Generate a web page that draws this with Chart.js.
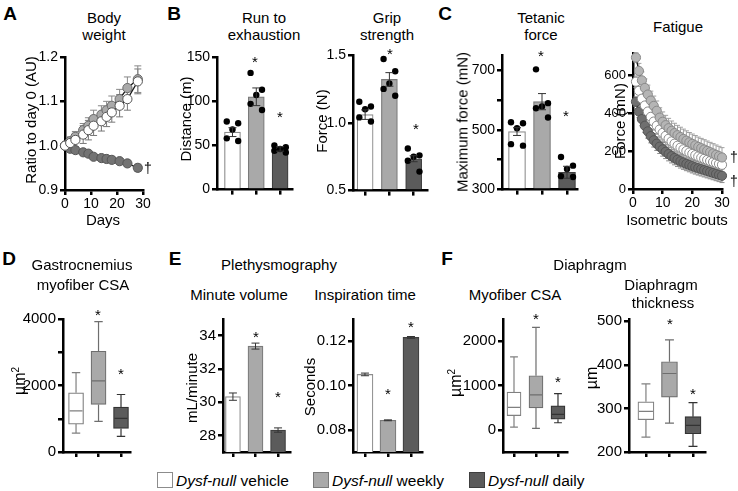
<!DOCTYPE html>
<html>
<head>
<meta charset="utf-8">
<script src="https://cdn.jsdelivr.net/npm/chart.js@4.4.1/dist/chart.umd.min.js"></script>
<style>
  body { margin: 0; background: #fff; }
  #fig { position: relative; width: 738px; height: 491px; overflow: hidden;
         font-family: "Liberation Sans", Arial, sans-serif; color: #000; }
  #fig canvas { position: absolute; }
  .lbl { position: absolute; white-space: nowrap; line-height: 1; font-size: 15px; }
  .sw { position: absolute; width: 16px; height: 16px; box-sizing: border-box; border: 1px solid #777; }
</style>
</head>
<body>
<div id="fig">
  <canvas id="cA"></canvas>
  <canvas id="cB1"></canvas>
  <canvas id="cB2"></canvas>
  <canvas id="cC1"></canvas>
  <canvas id="cC2"></canvas>
  <canvas id="cD"></canvas>
  <canvas id="cE1"></canvas>
  <canvas id="cE2"></canvas>
  <canvas id="cF1"></canvas>
  <canvas id="cF2"></canvas>
</div>
<script>
// ---- data ----
const groups = ["Dysf-null vehicle", "Dysf-null weekly", "Dysf-null daily"];

// A body weight
const bwDays = [0, 2, 4, 7, 9, 11, 14, 16, 18, 21, 24, 28];
const bwVehicle = [1.0, 1.006, 1.013, 1.025, 1.035, 1.045, 1.055, 1.065, 1.075, 1.09, 1.105, 1.145];
const bwVehicleErr = [0, 0.012, 0.015, 0.02, 0.022, 0.022, 0.022, 0.022, 0.022, 0.025, 0.025, 0.028];
const bwWeekly = [1.0, 1.01, 1.02, 1.035, 1.045, 1.06, 1.07, 1.08, 1.09, 1.105, 1.13, 1.15];
const bwWeeklyErr = [0, 0.01, 0.012, 0.015, 0.018, 0.02, 0.02, 0.02, 0.022, 0.022, 0.025, 0.03];
const bwDaily = [1.0, 0.993, 0.99, 0.985, 0.982, 0.975, 0.972, 0.97, 0.968, 0.965, 0.96, 0.95];
const bwDailyErr = [0, 0.004, 0.005, 0.005, 0.005, 0.005, 0.005, 0.006, 0.006, 0.006, 0.007, 0.008];
const bwTicksY = [0.9, 1.0, 1.1, 1.2];
const bwLabelsY = ["0.9", "1.0", "1.1", "1.2"];
const dayTicks = [0, 10, 20, 30];
const dayLabels = ["0", "10", "20", "30"];

// B run to exhaustion / grip strength
const runMean = [65, 105, 46];
const runSem = [5, 10, 2.5];
const runDots = [[77, 75, 68, 58, 55], [132, 113, 107, 97, 90], [50, 48, 46, 44, 42]];
const runTicks = [0, 50, 100, 150];
const runLabels = ["0", "50", "100", "150"];

const gripMean = [1.06, 1.32, 0.735];
const gripSem = [0.035, 0.05, 0.022];
const gripDots = [[1.155, 1.12, 1.1, 1.04, 1.01], [1.47, 1.38, 1.29, 1.25, 1.2], [0.81, 0.76, 0.75, 0.72, 0.64]];
const gripTicks = [0.5, 1.0, 1.5];
const gripLabels = ["0.5", "1.0", "1.5"];

// C tetanic force / fatigue
const tetMean = [494, 594, 358];
const tetSem = [13, 27, 20];
const tetDots = [[525, 522, 505, 452, 447], [702, 589, 578, 572, 541], [409, 380, 369, 345, 342]];
const tetTicks = [300, 400, 500, 600, 700];
const tetLabels = ["300", "", "500", "", "700"];

const fatBouts = [1, 2, 3, 4, 5, 6, 7, 8, 9, 10, 11, 12, 13, 14, 15, 16, 17, 18, 19, 20, 21, 22, 23, 24, 25, 26, 27, 28, 29, 30];
const fatWeekly = [696, 625, 575, 535, 500, 468, 440, 414, 378, 356, 338, 322, 308, 296, 285, 275, 265, 256, 247, 239, 231, 223, 216, 209, 202, 195, 188, 181, 174, 167];
const fatWeeklyErr = [25, 40, 45, 48, 50, 50, 52, 52, 52, 52, 52, 52, 52, 52, 52, 52, 52, 52, 52, 52, 52, 52, 52, 52, 52, 52, 52, 52, 52, 52];
const fatVehicle = [568, 520, 478, 442, 410, 382, 357, 335, 315, 297, 281, 266, 252, 240, 229, 219, 210, 201, 193, 186, 179, 172, 166, 160, 154, 148, 143, 138, 133, 128];
const fatVehicleErr = [30, 40, 42, 44, 45, 45, 45, 45, 45, 45, 45, 45, 45, 45, 45, 45, 45, 45, 45, 45, 45, 45, 45, 45, 45, 45, 45, 45, 45, 45];
const fatDaily = [462, 410, 370, 335, 305, 280, 258, 240, 224, 210, 197, 185, 174, 164, 155, 147, 140, 133, 127, 121, 115, 110, 105, 100, 95, 90, 85, 80, 75, 70];
const fatDailyErr = [25, 32, 35, 36, 36, 36, 36, 36, 36, 36, 36, 36, 36, 36, 36, 36, 36, 36, 36, 36, 36, 36, 36, 36, 36, 36, 36, 36, 36, 36];
const fatTicks = [0, 200, 400, 600];
const fatLabels = ["0", "200", "400", "600"];
const boutTicks = [0, 10, 20, 30];
const boutLabels = ["0", "10", "20", "30"];

// D gastrocnemius myofiber CSA (box plots)
const gasMin = [570, 920, 470];
const gasQ1 = [840, 1430, 710];
const gasMed = [1235, 2140, 1010];
const gasQ3 = [1780, 3030, 1350];
const gasMax = [2390, 3920, 1730];
const gasTicks = [0, 1000, 2000, 3000, 4000];
const gasLabels = ["0", "", "2000", "", "4000"];

// E plethysmography
const mvMean = [30.33, 33.37, 28.32];
const mvSem = [0.22, 0.18, 0.13];
const mvTicks = [28, 30, 32, 34];
const mvLabels = ["28", "30", "32", "34"];
const itMean = [0.105, 0.0843, 0.1217];
const itSem = [0.0006, 0.0002, 0.0004];
const itTicks = [0.08, 0.10, 0.12];
const itLabels = ["0.08", "0.10", "0.12"];

// F diaphragm (box plots)
const myoMin = [60, 35, 160];
const myoQ1 = [320, 495, 240];
const myoMed = [505, 790, 350];
const myoQ3 = [850, 1220, 540];
const myoMax = [1645, 2310, 815];
const myoTicks = [0, 1000, 2000];
const myoLabels = ["0", "1000", "2000"];
const thkMin = [234, 266, 213];
const thkQ1 = [274, 326, 242];
const thkMed = [293, 380, 261];
const thkQ3 = [315, 407, 281];
const thkMax = [356, 457, 313];
const thkTicks = [200, 300, 400, 500];
const thkLabels = ["200", "300", "400", "500"];

// ---- styling / helpers ----
Chart.defaults.font.family = '"Liberation Sans", Arial, sans-serif';
Chart.defaults.color = "#000";

const FILL = ["#ffffff", "#a9a9a9", "#5b5b5b"];
const EDGE = ["#8c8c8c", "#7a7a7a", "#3f3f3f"];
const BOX_LINE = ["#808080", "#6e6e6e", "#333333"];
const CAT_TICKS = [0, 1, 2];
const CAT_LABELS = ["", "", ""];
const JITTER = [-0.24, 0.24, 0, -0.24, 0.24];
const PAD_T = 12, PAD_R = 14;

function place(id, area, padL, padB) {
  const c = document.getElementById(id);
  c.width = area.r - area.l + padL + PAD_R;
  c.height = area.b - area.t + PAD_T + padB;
  c.style.left = (area.l - padL) + "px";
  c.style.top = (area.t - PAD_T) + "px";
  return c;
}

function axis(min, max, ticks, labels, size) {
  return {
    type: "linear", min, max, offset: false,
    border: { color: "#000", width: 2.5 },
    grid: { offset: false, drawOnChartArea: false, drawTicks: true, tickLength: 5, color: "#000", lineWidth: 2.5 },
    afterBuildTicks: s => { s.ticks = ticks.map(v => ({ value: v })); },
    ticks: { callback: (v, i) => labels[i], font: { size }, color: "#000", padding: 2, autoSkip: false, maxRotation: 0 }
  };
}
function axisY(min, max, ticks, labels, padL, size) {
  const a = axis(min, max, ticks, labels, size);
  a.afterFit = s => { s.width = padL; };
  return a;
}
function axisX(min, max, ticks, labels, padB, size) {
  const a = axis(min, max, ticks, labels, size);
  a.ticks.padding = 1;
  a.afterFit = s => { s.height = padB; };
  return a;
}
function baseOptions(xs, ys) {
  return {
    responsive: false, animation: false, events: [],
    layout: { padding: { top: PAD_T, right: PAD_R, left: 0, bottom: 0 } },
    plugins: { legend: { display: false }, tooltip: { enabled: false } },
    scales: { x: xs, y: ys }
  };
}
const xy = (xs, ys) => xs.map((x, i) => ({ x, y: ys[i] }));

// error bars drawn with the chart's own y scale
function errPlugin(sets, behind) {
  const draw = chart => {
    const ctx = chart.ctx, ys = chart.scales.y;
    sets.forEach(s => {
      const meta = chart.getDatasetMeta(s.index);
      const data = chart.data.datasets[s.index].data;
      ctx.save();
      ctx.strokeStyle = s.color;
      ctx.lineWidth = s.width || 1;
      meta.data.forEach((el, j) => {
        const e = s.err[j];
        if (!e) return;
        const v = data[j].y;
        const y1 = ys.getPixelForValue(v - e), y2 = ys.getPixelForValue(v + e);
        const x = el.x, hw = s.cap / 2;
        ctx.beginPath();
        ctx.moveTo(x, y1); ctx.lineTo(x, y2);
        ctx.moveTo(x - hw, y1); ctx.lineTo(x + hw, y1);
        ctx.moveTo(x - hw, y2); ctx.lineTo(x + hw, y2);
        ctx.stroke();
      });
      ctx.restore();
    });
  };
  return behind ? { id: "errBehind", beforeDatasetsDraw: draw } : { id: "errFront", afterDatasetsDraw: draw };
}

// whiskers + median for the floating-bar boxes
function whiskerPlugin(lo, med, hi) {
  return {
    id: "whiskers",
    afterDatasetsDraw(chart) {
      const ctx = chart.ctx, ys = chart.scales.y;
      const meta = chart.getDatasetMeta(0);
      meta.data.forEach((el, j) => {
        const [q1, q3] = chart.data.datasets[0].data[j].y;
        const x = el.x, hw = el.width / 2, cw = el.width * 0.28;
        const yLo = ys.getPixelForValue(lo[j]), yHi = ys.getPixelForValue(hi[j]);
        const yMed = ys.getPixelForValue(med[j]);
        ctx.save();
        ctx.strokeStyle = BOX_LINE[j];
        ctx.lineWidth = 1.2;
        ctx.beginPath();
        ctx.moveTo(x, ys.getPixelForValue(q3)); ctx.lineTo(x, yHi);
        ctx.moveTo(x - cw, yHi); ctx.lineTo(x + cw, yHi);
        ctx.moveTo(x, ys.getPixelForValue(q1)); ctx.lineTo(x, yLo);
        ctx.moveTo(x - cw, yLo); ctx.lineTo(x + cw, yLo);
        ctx.moveTo(x - hw + 1, yMed); ctx.lineTo(x + hw - 1, yMed);
        ctx.stroke();
        ctx.restore();
      });
    }
  };
}

function barPanel(id, p, means, sems, dots) {
  const datasets = [{
    data: means.map((m, i) => ({ x: i, y: m })), base: p.yMin,
    backgroundColor: FILL, borderColor: EDGE, borderWidth: 1.2,
    barThickness: p.barW, order: 1
  }];
  if (dots) {
    datasets.push({
      type: "scatter", order: 0, clip: false,
      data: dots.flatMap((g, i) => g.map((v, k) => ({ x: i + JITTER[k], y: v }))),
      pointRadius: 3.2, pointBackgroundColor: "#000", pointBorderWidth: 0
    });
  }
  new Chart(place(id, p.area, p.padL, 10), {
    type: "bar",
    data: { datasets },
    options: baseOptions(
      axisX(p.xMin, p.xMax, CAT_TICKS, CAT_LABELS, 10, 14),
      axisY(p.yMin, p.yMax, p.ticks, p.labels, p.padL, p.font)),
    plugins: [errPlugin([{ index: 0, err: sems, color: "#333", cap: 8 }], false)]
  });
}

function boxPanel(id, p, lo, q1, med, q3, hi) {
  new Chart(place(id, p.area, p.padL, 10), {
    type: "bar",
    data: { datasets: [{
      data: q1.map((v, i) => ({ x: i, y: [v, q3[i]] })),
      backgroundColor: FILL, borderColor: BOX_LINE, borderWidth: 1.2,
      borderSkipped: false, barThickness: p.barW
    }] },
    options: baseOptions(
      axisX(p.xMin, p.xMax, CAT_TICKS, CAT_LABELS, 10, 14),
      axisY(p.yMin, p.yMax, p.ticks, p.labels, p.padL, p.font)),
    plugins: [whiskerPlugin(lo, med, hi)]
  });
}

function lineSet(x, y, fill, edge) {
  return {
    data: xy(x, y), borderColor: "#1a1a1a", borderWidth: 1.3, tension: 0, clip: false,
    pointRadius: 4.6, pointBackgroundColor: fill, pointBorderColor: edge, pointBorderWidth: 1
  };
}

// ---- A: body weight ----
new Chart(place("cA", { l: 65, r: 143, t: 57, b: 190 }, 42, 32), {
  type: "line",
  data: { datasets: [
    lineSet(bwDays, bwVehicle, "#ffffff", "#555"),
    lineSet(bwDays, bwWeekly, "#a9a9a9", "#6a6a6a"),
    lineSet(bwDays, bwDaily, "#737373", "#555")
  ] },
  options: baseOptions(axisX(0, 30, dayTicks, dayLabels, 32, 14), axisY(0.9, 1.2, bwTicksY, bwLabelsY, 42, 14)),
  plugins: [errPlugin([
    { index: 0, err: bwVehicleErr, color: "#777", cap: 7 },
    { index: 1, err: bwWeeklyErr, color: "#888", cap: 7 },
    { index: 2, err: bwDailyErr, color: "#777", cap: 7 }
  ], true)]
});

// ---- B ----
barPanel("cB1", { area: { l: 217, r: 292, t: 57, b: 190 }, padL: 38, xMin: -0.65, xMax: 2.5,
  yMin: 0, yMax: 150, ticks: runTicks, labels: runLabels, font: 14, barW: 16 }, runMean, runSem, runDots);
barPanel("cB2", { area: { l: 353, r: 427, t: 55, b: 191 }, padL: 34, xMin: -0.5, xMax: 2.55,
  yMin: 0.5, yMax: 1.5, ticks: gripTicks, labels: gripLabels, font: 14, barW: 16 }, gripMean, gripSem, gripDots);

// ---- C ----
barPanel("cC1", { area: { l: 502, r: 577, t: 55, b: 190 }, padL: 36, xMin: -0.6, xMax: 2.4,
  yMin: 300, yMax: 750, ticks: tetTicks, labels: tetLabels, font: 14, barW: 17 }, tetMean, tetSem, tetDots);

new Chart(place("cC2", { l: 633, r: 722, t: 53, b: 189 }, 36, 32), {
  type: "line",
  data: { datasets: [
    lineSet(fatBouts, fatWeekly, "#b5b5b5", "#8a8a8a"),
    lineSet(fatBouts, fatVehicle, "#ffffff", "#8a8a8a"),
    lineSet(fatBouts, fatDaily, "#6f6f6f", "#555")
  ] },
  options: baseOptions(axisX(0, 30, boutTicks, boutLabels, 32, 14), axisY(0, 720, fatTicks, fatLabels, 36, 13)),
  plugins: [errPlugin([
    { index: 2, err: fatDailyErr, color: "#8c8c8c", cap: 5 },
    { index: 1, err: fatVehicleErr, color: "#a0a0a0", cap: 5 },
    { index: 0, err: fatWeeklyErr, color: "#a0a0a0", cap: 5 }
  ], true)]
});

// ---- D ----
boxPanel("cD", { area: { l: 63, r: 130, t: 319, b: 453 }, padL: 40, xMin: -0.58, xMax: 2.4,
  yMin: 0, yMax: 4000, ticks: gasTicks, labels: gasLabels, font: 15, barW: 15 },
  gasMin, gasQ1, gasMed, gasQ3, gasMax);

// ---- E ----
barPanel("cE1", { area: { l: 223, r: 290, t: 319, b: 453 }, padL: 26, xMin: -0.44, xMax: 2.53,
  yMin: 27, yMax: 35, ticks: mvTicks, labels: mvLabels, font: 15, barW: 15 }, mvMean, mvSem, null);
barPanel("cE2", { area: { l: 353, r: 422, t: 319, b: 453 }, padL: 40, xMin: -0.52, xMax: 2.48,
  yMin: 0.07, yMax: 0.13, ticks: itTicks, labels: itLabels, font: 15, barW: 16 }, itMean, itSem, null);

// ---- F ----
boxPanel("cF1", { area: { l: 503, r: 567, t: 319, b: 453 }, padL: 40, xMin: -0.5, xMax: 2.41,
  yMin: -500, yMax: 2500, ticks: myoTicks, labels: myoLabels, font: 15, barW: 14 },
  myoMin, myoQ1, myoMed, myoQ3, myoMax);
boxPanel("cF2", { area: { l: 629, r: 705, t: 319, b: 453 }, padL: 36, xMin: -0.72, xMax: 2.51,
  yMin: 200, yMax: 505, ticks: thkTicks, labels: thkLabels, font: 15, barW: 16 },
  thkMin, thkQ1, thkMed, thkQ3, thkMax);

// ---- text ----
const fig = document.getElementById("fig");
function label(html, x, y, o = {}) {
  const d = document.createElement("div");
  d.className = "lbl";
  d.innerHTML = html;
  d.style.left = x + "px";
  d.style.top = y + "px";
  let t = o.left ? "translate(0,-50%)" : "translate(-50%,-50%)";
  if (o.rot) t += " rotate(-90deg)";
  d.style.transform = t;
  if (o.size) d.style.fontSize = o.size + "px";
  if (o.bold) d.style.fontWeight = "bold";
  fig.appendChild(d);
}
const star = (x, y) => label("*", x, y + 3, { size: 15 });
const um2 = "&micro;m<sup style='font-size:10px;vertical-align:6px'>2</sup>";

// panel letters
[["A", 10, 13], ["B", 174, 13], ["C", 445, 13], ["D", 9, 258], ["E", 175, 258], ["F", 447, 258]]
  .forEach(([t, x, y]) => label(t, x, y, { size: 19, bold: true }));

// top row
label("Body", 104, 17); label("weight", 104, 34);
label("Ratio to day 0 (AU)", 30, 120, { rot: true });
label("Days", 103, 219);
label("&dagger;", 148, 168, { size: 14 });

label("Run to", 264, 17); label("exhaustion", 264, 34);
label("Distance (m)", 185, 119, { rot: true });
star(255, 58); star(280, 113);

label("Grip", 387, 17); label("strength", 387, 34);
label("Force (N)", 321, 121, { rot: true });
star(390, 50); star(416, 125);

label("Tetanic", 541, 17); label("force", 541, 34);
label("Maximum force (mN)", 462, 122, { rot: true });
star(541, 52); star(566, 112);

label("Fatigue", 678, 26);
label("Force (mN)", 619, 121, { rot: true });
label("Isometric bouts", 677, 219);
label("&dagger;", 734, 157, { size: 14 }); label("&dagger;", 734, 181, { size: 14 });

// bottom row
label("Gastrocnemius", 82, 264); label("myofiber CSA", 83, 284);
label(um2, 19, 381, { rot: true, size: 16 });
star(98, 311); star(121, 370);

label("Plethysmography", 279, 264);
label("Minute volume", 239, 294); label("Inspiration time", 365, 294);
label("mL/minute", 191, 388, { rot: true });
label("Seconds", 309, 387, { rot: true });
star(256, 333); star(278, 393);
star(388, 390); star(411, 323);

label("Diaphragm", 590, 264);
label("Myofiber CSA", 515, 294);
label("Diaphragm", 661, 284); label("thickness", 663, 302);
label(um2, 455, 383, { rot: true, size: 16 });
label("&micro;m", 592, 378, { rot: true, size: 16 });
star(536, 315); star(558, 378);
star(670, 320); star(693, 390);

// legend
[[157, 0], [313, 1], [469, 2]].forEach(([x, i]) => {
  const s = document.createElement("div");
  s.className = "sw";
  s.style.left = x + "px";
  s.style.top = "472px";
  s.style.background = FILL[i];
  s.style.borderColor = EDGE[i];
  fig.appendChild(s);
  const parts = groups[i].split(" ");
  label("<i>" + parts[0] + "</i> " + parts[1], x + 19, 481, { left: true, size: 15.5 });
});
</script>
</body>
</html>
